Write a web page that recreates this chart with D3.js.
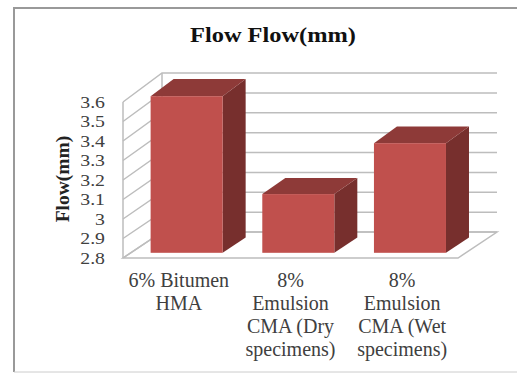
<!DOCTYPE html>
<html>
<head>
<meta charset="utf-8">
<script src="https://cdn.jsdelivr.net/npm/d3@7/dist/d3.min.js"></script>
<style>
  html, body { margin: 0; padding: 0; background: #fff; }
  svg { display: block; }
  text { font-family: "Liberation Serif", serif; }
</style>
</head>
<body>
<svg id="chart" width="517" height="373"></svg>
<script>
const categoryLines = [
  ["6% Bitumen", "HMA"],
  ["8%", "Emulsion", "CMA (Dry", "specimens)"],
  ["8%", "Emulsion", "CMA (Wet", "specimens)"]
];
const categoryIds = ["hma", "cmaDry", "cmaWet"];
const flowValues = [3.6, 3.1, 3.36];
const tickValues = [2.8, 2.9, 3, 3.1, 3.2, 3.3, 3.4, 3.5, 3.6];

const svg = d3.select("#chart");

// Pseudo-3D box: the front plane and back plane use slightly different vertical scales.
const yFront = d3.scaleLinear().domain([2.8, 3.6]).range([258, 102]);
const yBack = d3.scaleLinear().domain([2.8, 3.6]).range([232, 73]);
const x = d3.scaleBand().domain(categoryIds).range([123, 458]).padding(0);
const depthX = 39;
const barWidthRatio = 0.645;
const barDepthStart = 0.2;
const barDepthEnd = 0.79;

const px = (vx, depth) => vx + depth * depthX;
const py = (v, depth) => yFront(v) + (yBack(v) - yFront(v)) * depth;
const pts = a => a.map(p => p.join(",")).join(" ");

// Outer frame
const frameColor = "#999";
svg.append("path").attr("d", "M14,372V8H517").attr("fill", "none")
  .attr("stroke", frameColor).attr("stroke-width", 2);
svg.append("line").attr("x1", 14).attr("x2", 517).attr("y1", 372).attr("y2", 372)
  .attr("stroke", "#ccc").attr("stroke-width", 1);

// Title
svg.append("text").attr("x", 273).attr("y", 42).attr("text-anchor", "middle")
  .attr("font-weight", "bold").attr("font-size", 21).attr("fill", "#111")
  .attr("textLength", 166).attr("lengthAdjust", "spacingAndGlyphs")
  .text("Flow Flow(mm)");

// Floor
const gridColor = "#bdbdbd";
const xMin = 123, xMax = 458;
svg.append("polygon")
  .attr("points", pts([[px(xMin, 0), py(2.8, 0)], [px(xMax, 0), py(2.8, 0)],
                       [px(xMax, 1), py(2.8, 1)], [px(xMin, 1), py(2.8, 1)]]))
  .attr("fill", "#fff").attr("stroke", gridColor).attr("stroke-width", 1.5);

// Side wall and back wall gridlines
svg.append("line").attr("x1", px(xMin, 0)).attr("x2", px(xMin, 0))
  .attr("y1", py(2.8, 0)).attr("y2", py(3.6, 0))
  .attr("stroke", gridColor).attr("stroke-width", 1.5);
svg.append("line").attr("x1", px(xMin, 1)).attr("x2", px(xMin, 1))
  .attr("y1", py(2.8, 1)).attr("y2", py(3.6, 1))
  .attr("stroke", gridColor).attr("stroke-width", 1.5);
svg.append("g").selectAll("polyline").data(tickValues).join("polyline")
  .attr("points", v => pts([[px(xMin, 0), py(v, 0)], [px(xMin, 1), py(v, 1)], [px(xMax, 1), py(v, 1)]]))
  .attr("fill", "none").attr("stroke", gridColor).attr("stroke-width", 1.5);

// Bars
const colors = { front: "#c0504d", top: "#8e3a38", side: "#772f2d" };
const bars = svg.append("g").selectAll("g")
  .data(categoryIds.map((id, i) => ({ id, value: flowValues[i] })))
  .join("g");

const barLeft = d => x(d.id) + x.bandwidth() * (1 - barWidthRatio) / 2;
const barRight = d => barLeft(d) + x.bandwidth() * barWidthRatio;

bars.append("polygon").attr("fill", colors.side).attr("points", d => pts([
  [px(barRight(d), barDepthStart), py(2.8, barDepthStart)],
  [px(barRight(d), barDepthEnd), py(2.8, barDepthEnd)],
  [px(barRight(d), barDepthEnd), py(d.value, barDepthEnd)],
  [px(barRight(d), barDepthStart), py(d.value, barDepthStart)]
]));
bars.append("polygon").attr("fill", colors.top).attr("points", d => pts([
  [px(barLeft(d), barDepthStart), py(d.value, barDepthStart)],
  [px(barRight(d), barDepthStart), py(d.value, barDepthStart)],
  [px(barRight(d), barDepthEnd), py(d.value, barDepthEnd)],
  [px(barLeft(d), barDepthEnd), py(d.value, barDepthEnd)]
]));
bars.append("rect").attr("fill", colors.front)
  .attr("x", d => px(barLeft(d), barDepthStart))
  .attr("y", d => py(d.value, barDepthStart))
  .attr("width", x.bandwidth() * barWidthRatio)
  .attr("height", d => py(2.8, barDepthStart) - py(d.value, barDepthStart));

// Value axis: tall tick spacing is tight, so the glyphs are set smaller and widened.
const yAxis = d3.axisLeft(yFront).tickValues(tickValues).tickSize(0).tickPadding(0)
  .tickFormat(d3.format("~g"));
const axisG = svg.append("g").attr("transform", "translate(105,0)").call(yAxis);
axisG.select(".domain").remove();
axisG.selectAll("text").attr("font-size", 16.5).attr("fill", "#404040")
  .attr("font-family", "Liberation Serif")
  .attr("x", 0).attr("transform", "scale(1.2,1)");

svg.append("text")
  .attr("transform", "translate(69,179) rotate(-90)")
  .attr("text-anchor", "middle").attr("font-weight", "bold").attr("font-size", 19.5)
  .attr("fill", "#222").text("Flow(mm)");

// Category labels
const labelBaselines = [287, 310, 333, 356];
const catG = svg.append("g").selectAll("text")
  .data(categoryIds.map((id, i) => ({ id, lines: categoryLines[i] })))
  .join("text").attr("text-anchor", "middle").attr("font-size", 20).attr("fill", "#404040");
catG.selectAll("tspan").data(d => d.lines.map((line, i) => ({ line, i, cx: x(d.id) + x.bandwidth() / 2 })))
  .join("tspan")
  .attr("x", d => d.cx).attr("y", d => labelBaselines[d.i]).text(d => d.line);
</script>
</body>
</html>
